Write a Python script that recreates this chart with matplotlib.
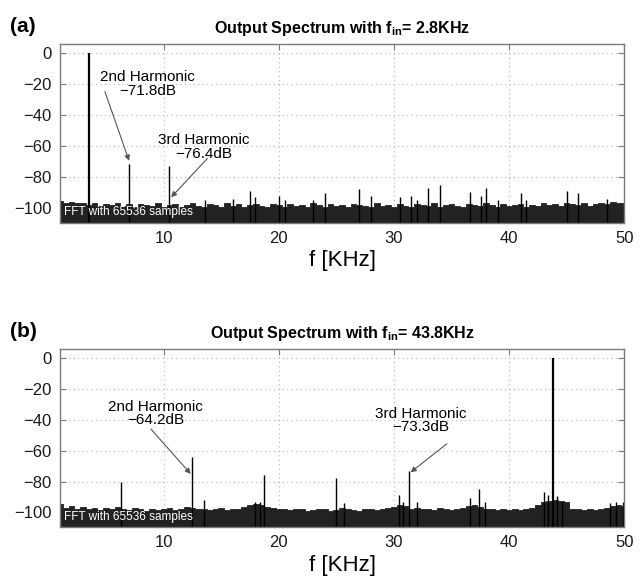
import numpy as np
import matplotlib
matplotlib.use("Agg")
import matplotlib.pyplot as plt

plt.rcParams['font.family'] = ['Liberation Sans', 'DejaVu Sans']
plt.rcParams['mathtext.fontset'] = 'custom'
plt.rcParams['mathtext.rm'] = 'Liberation Sans'
plt.rcParams['mathtext.bf'] = 'Liberation Sans:bold'

# ---- data ----
freq_grid = np.arange(1.0, 50.01, 0.5)   # kHz, noise floor sample points

noise_a = [-95.5, -96.5, -96.0, -97.0, -96.5, -98.0, -97.0, -98.5, -97.5, -98.0,
           -97.0, -98.5, -97.5, -99.0, -97.5, -98.0, -98.5, -97.0, -99.0, -98.0,
           -97.5, -99.0, -98.0, -97.0, -98.5, -99.0, -97.5, -98.0, -99.5, -97.0,
           -98.5, -97.5, -99.0, -98.0, -97.5, -98.5, -99.0, -97.5, -98.0, -99.0,
           -97.5, -98.5, -98.0, -99.5, -97.0, -98.0, -99.0, -97.5, -98.5, -98.0,
           -99.0, -97.5, -98.0, -98.5, -99.0, -97.0, -98.5, -98.0, -99.0, -97.5,
           -98.5, -99.0, -97.5, -98.0, -98.5, -97.0, -99.0, -98.0, -97.5, -98.5,
           -99.0, -97.5, -98.0, -98.5, -97.0, -98.0, -99.0, -97.5, -98.5, -98.0,
           -97.5, -99.0, -98.0, -98.5, -97.0, -98.0, -97.5, -98.5, -97.0, -97.5,
           -98.0, -97.0, -98.5, -97.5, -96.5, -97.5, -96.0, -97.0, -96.5]

noise_b = [-94.5, -97.0, -96.0, -97.5, -96.5, -98.0, -97.0, -98.5, -97.0, -98.0,
           -96.5, -97.5, -98.5, -97.0, -98.0, -99.0, -97.5, -98.5, -98.0, -97.0,
           -98.5, -97.5, -96.5, -97.0, -98.0, -97.5, -98.5, -98.0, -97.0, -98.5,
           -97.5, -98.0, -96.5, -95.0, -94.5, -95.5, -96.5, -97.0, -98.0, -97.5,
           -98.5, -97.5, -98.0, -99.0, -98.5, -97.5, -98.0, -99.0, -98.5, -97.0,
           -98.0, -98.5, -99.0, -98.0, -97.5, -98.5, -98.0, -97.0, -96.5, -95.5,
           -96.0, -97.5, -97.0, -98.0, -97.5, -98.5, -97.0, -98.0, -98.5, -97.5,
           -97.0, -96.0, -95.5, -96.5, -97.5, -98.0, -98.5, -97.5, -98.5, -98.0,
           -98.5, -97.5, -97.0, -95.5, -93.0, -92.5, -92.0, -92.5, -93.5, -97.5,
           -98.0, -98.5, -98.0, -98.5, -97.5, -97.0, -96.0, -95.5, -96.0]

# tones and spurs: frequency (kHz), level (dB)
spur_f_a = [3.5, 7.0, 10.5, 13.6, 16.0, 17.5, 17.9, 20.0, 20.5, 23.0, 24.0, 27.0,
            28.0, 30.5, 31.5, 32.0, 33.0, 34.0, 36.6, 37.6, 38.0, 39.0, 41.0,
            41.5, 45.0, 46.0, 48.5]
spur_l_a = [0.0, -71.8, -73.0, -94.8, -94.4, -88.7, -93.0, -92.0, -95.0, -95.0,
            -90.5, -87.9, -92.0, -93.0, -92.0, -95.0, -87.2, -85.0, -89.8, -92.0,
            -87.2, -95.0, -90.5, -94.8, -88.7, -90.5, -94.4]

spur_f_b = [6.3, 12.43, 13.5, 17.9, 18.4, 18.75, 25.0, 25.7, 30.4, 30.8, 31.3,
            32.0, 36.6, 37.4, 37.9, 43.0, 43.4, 43.8, 44.2, 44.6, 48.8, 49.3, 49.9]
spur_l_b = [-80.5, -64.2, -92.0, -93.0, -93.0, -76.0, -78.0, -94.0, -88.4, -93.0,
            -73.3, -93.0, -90.6, -85.0, -93.0, -86.7, -88.8, 0.0, -89.3, -93.0,
            -94.0, -93.0, -93.5]

titles = [r'Output Spectrum with $\mathbf{f}_{\mathbf{in}}$= 2.8KHz',
          r'Output Spectrum with $\mathbf{f}_{\mathbf{in}}$= 43.8KHz']
panel_tags = ['(a)', '(b)']

# annotations: text, text position (x, y), arrow tail, arrow head
notes_a = [("2nd Harmonic\n\u221271.8dB", (8.6, -20.0), (4.9, -25.0), (7.0, -69.5)),
           ("3rd Harmonic\n\u221276.4dB", (13.5, -60.5), (13.8, -68.0), (10.65, -93.0))]
notes_b = [("2nd Harmonic\n\u221264.2dB", (9.3, -36.0), (8.9, -46.0), (12.35, -75.0)),
           ("3rd Harmonic\n\u221273.3dB", (32.3, -40.5), (34.6, -55.5), (31.45, -74.0))]

dark = '#222222'
spine = '#7a7a7a'

fig = plt.figure(figsize=(6.44, 5.85), dpi=100)
ax_a = fig.add_axes([0.0932, 0.619, 0.876, 0.306])
ax_b = fig.add_axes([0.0932, 0.099, 0.876, 0.304])

panels = [(ax_a, noise_a, spur_f_a, spur_l_a, notes_a),
          (ax_b, noise_b, spur_f_b, spur_l_b, notes_b)]

for i, (ax, noise, sf, sl, notes) in enumerate(panels):
    ax.fill_between(freq_grid, noise, -120, step='mid', color=dark, lw=0.6,
                    edgecolor=dark, zorder=3)
    widths = [1.6 if l == 0 else 1.0 for l in sl]
    ax.vlines(sf, -120, sl, color='black', lw=widths, zorder=4)

    ax.set_xlim(1, 50)
    ax.set_ylim(-109.5, 5.8)
    ax.set_xticks([10, 20, 30, 40, 50])
    ax.set_yticks([0, -20, -40, -60, -80, -100])
    ax.set_yticklabels(['0', '\u221220', '\u221240', '\u221260', '\u221280', '\u2212100'])
    ax.grid(True, color='#b5b5b5', lw=0.8, linestyle=(0, (1, 3)))
    ax.tick_params(direction='in', length=4, width=0.8, color=spine,
                   labelsize=12, labelcolor='#1a1a1a', top=True, right=True, pad=6)
    for s in ax.spines.values():
        s.set_color(spine)
        s.set_linewidth(1.0)
        s.set_zorder(5)

    ax.set_xlabel('f [KHz]', fontsize=16, labelpad=3)
    ax.set_title(titles[i], fontsize=11.5, fontweight='bold', pad=8)
    ax.text(-0.088, 1.045, panel_tags[i], transform=ax.transAxes, fontsize=15,
            fontweight='bold', va='bottom', ha='left')
    ax.text(0.007, 0.025, 'FFT with 65536 samples', transform=ax.transAxes,
            fontsize=8.5, color='white', va='bottom', ha='left', zorder=6)

    for txt, pos, tail, head in notes:
        ax.text(pos[0], pos[1], txt, fontsize=11, ha='center', va='center',
                linespacing=0.95, zorder=6)
        ax.annotate('', xy=head, xytext=tail,
                    arrowprops=dict(arrowstyle='-|>', color='#555555', lw=0.8,
                                    mutation_scale=8, shrinkA=0, shrinkB=0),
                    zorder=6)

fig.savefig('out.png', dpi=100)
